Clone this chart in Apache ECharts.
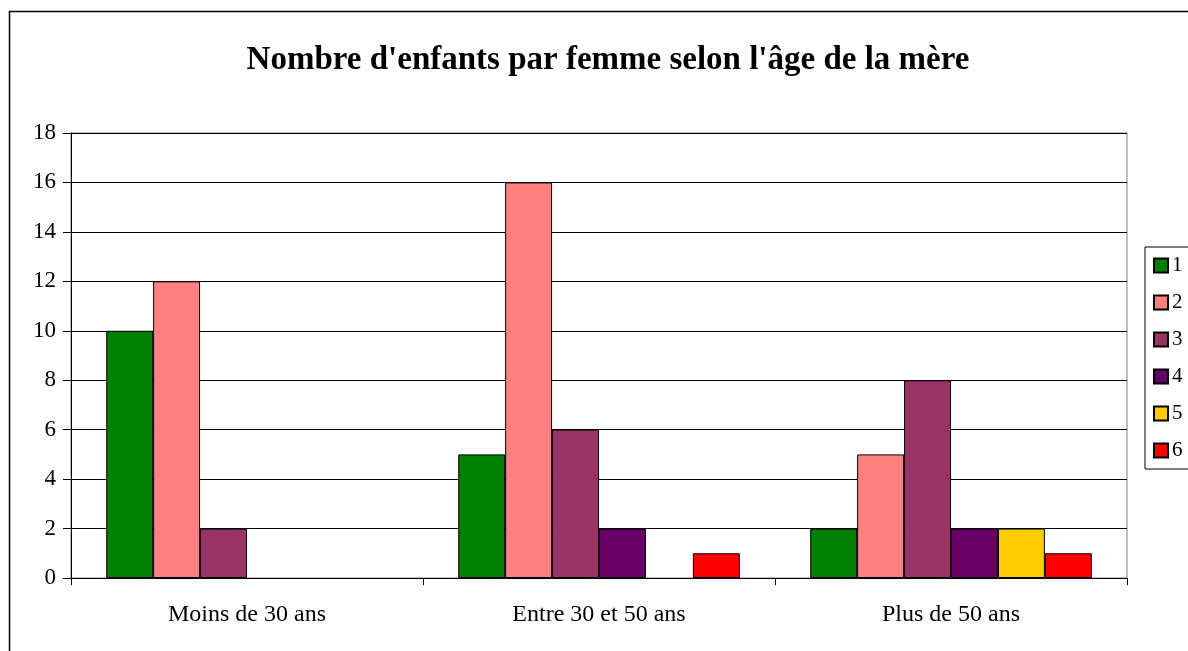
<!DOCTYPE html>
<html>
<head>
<meta charset="utf-8">
<script src="https://cdn.jsdelivr.net/npm/echarts@6/dist/echarts.min.js"></script>
<style>
  html, body { margin: 0; padding: 0; background: #fff; }
  #chart { width: 1188px; height: 651px; }
</style>
</head>
<body>
<div id="chart"></div>
<script>
// Age groups of the mother
const categories = ['Moins de 30 ans', 'Entre 30 et 50 ans', 'Plus de 50 ans'];
// Number of children per woman (series names) and counts per age group
const seriesNames = ['1', '2', '3', '4', '5', '6'];
const children1 = [10, 5, 2];
const children2 = [12, 16, 5];
const children3 = [2, 6, 8];
const children4 = [0, 2, 2];
const children5 = [0, 0, 2];
const children6 = [0, 1, 1];
const seriesValues = [children1, children2, children3, children4, children5, children6];
const seriesColors = ['#008000', '#FF8080', '#993366', '#660066', '#FFCC00', '#FF0000'];
const yTicks = [0, 2, 4, 6, 8, 10, 12, 14, 16, 18];

const serif = '"Liberation Serif", "Times New Roman", serif';

// zero-height bars get no outline, so nothing is drawn for them
const toBarData = (values) => values.map(v =>
  v === 0 ? { value: v, itemStyle: { borderWidth: 0 } } : v);

const chart = echarts.init(document.getElementById('chart'));
chart.setOption({
  animation: false,
  backgroundColor: '#fff',
  title: {
    text: "Nombre d'enfants par femme selon l'âge de la mère",
    left: 603,
    textAlign: 'center',
    top: 39,
    textStyle: { fontFamily: serif, fontWeight: 'bold', fontSize: 33, color: '#000' }
  },
  graphic: [{
    type: 'rect',
    shape: { x: 9.5, y: 11.5, width: 1400, height: 1000 },
    style: { fill: 'none', stroke: '#000', lineWidth: 1.5 },
    silent: true
  }],
  legend: {
    orient: 'vertical',
    left: 1145,
    top: 247,
    itemWidth: 14,
    itemHeight: 14,
    itemGap: 16,
    padding: [8, 30, 8, 8],
    borderColor: '#000',
    borderWidth: 1,
    icon: 'rect',
    textStyle: { fontFamily: serif, fontSize: 21, color: '#000', padding: [2, 0, 0, -1] },
    data: seriesNames
  },
  grid: {
    left: 71, right: 61, top: 133, bottom: 73,
    show: true, borderColor: '#808080', borderWidth: 1, backgroundColor: 'transparent'
  },
  xAxis: {
    type: 'category',
    data: categories,
    axisLine: { lineStyle: { color: '#000', width: 1 } },
    axisTick: { show: true, length: 7, lineStyle: { color: '#000' } },
    axisLabel: { fontFamily: serif, fontSize: 24, color: '#000', margin: 25 },
    splitLine: { show: false }
  },
  yAxis: {
    type: 'value',
    min: yTicks[0],
    max: yTicks[yTicks.length - 1],
    interval: 2,
    axisLine: { show: true, lineStyle: { color: '#000', width: 1 } },
    axisTick: { show: true, length: 8, inside: false, lineStyle: { color: '#000' } },
    axisLabel: { fontFamily: serif, fontSize: 23, color: '#000', margin: 15 },
    splitLine: { show: true, lineStyle: { color: '#000', width: 1 } }
  },
  series: seriesNames.map((name, i) => ({
    name: name,
    type: 'bar',
    data: toBarData(seriesValues[i]),
    barGap: '0%',
    barCategoryGap: '20%',
    itemStyle: { color: seriesColors[i], borderColor: '#000', borderWidth: 1 },
    emphasis: { disabled: true }
  }))
});
</script>
</body>
</html>
